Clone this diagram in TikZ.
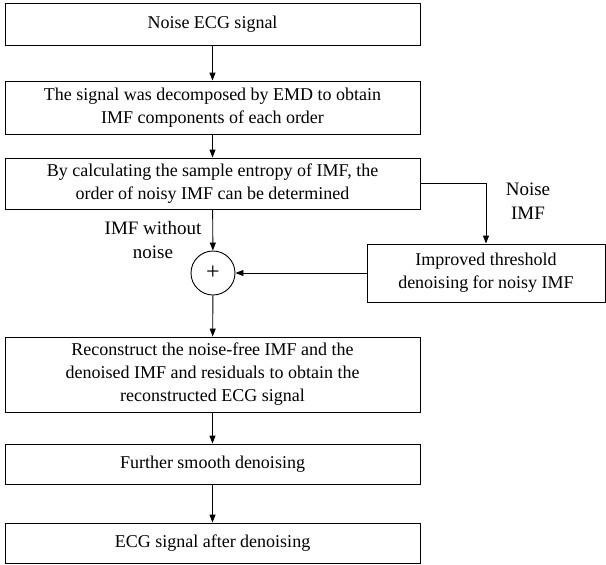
\documentclass[tikz,border=0pt]{standalone}
\usepackage{fontspec}
\setmainfont{Liberation Serif}
\usetikzlibrary{arrows.meta}

\tikzset{
  stage/.style={draw, line width=0.9pt, align=center, minimum width=415pt, inner sep=0pt,
    font=\fontsize{18}{23}\selectfont},
  tag/.style={inner sep=0pt, align=center, font=\fontsize{19}{24}\selectfont},
  flow/.style={line width=0.9pt, -{Triangle[length=8pt,width=6pt]}},
}

\begin{document}
\begin{tikzpicture}[x=1pt,y=-1pt]
			\useasboundingbox (0,0) rectangle (606,565);
			%%%%% START %%%%%
			\node[stage, minimum height=42pt] (noisy) at (212.5,24) {Noise ECG signal};
			\node[stage, minimum height=53pt] (emd) at (212.5,107.5) {The signal was decomposed by EMD to obtain\\IMF components of each order};
			\node[stage, minimum height=51pt] (entropy) at (212.5,183.5) {By calculating the sample entropy of IMF, the\\order of noisy IMF can be determined};
			
			\node[draw, circle, line width=0.9pt, minimum size=44pt, inner sep=0pt, font=\fontsize{24}{24}\selectfont] (sum) at (213,273) {+};
			\node[stage, minimum width=238pt, minimum height=58pt] (thresh) at (486,273) {Improved threshold\\denoising for noisy IMF};
			
			\node[tag] (noiseimf) at (528,201) {Noise\\IMF};
			\node[tag] (cleanimf) at (153,240) {IMF without\\noise};
			
			\node[stage, minimum height=75pt] (rebuild) at (212.5,374.5) {Reconstruct the noise-free IMF and the\\denoised IMF and residuals to obtain the\\reconstructed ECG signal};
			\node[stage, minimum height=40pt] (smooth) at (212.5,464) {Further smooth denoising};
			\node[stage, minimum height=40pt] (clean) at (212.5,543) {ECG signal after denoising};
			
			\draw[flow] (noisy) -- (emd);
			\draw[flow] (emd) -- (entropy);
			\draw[flow] (entropy) -- (sum);
			\draw[flow] (entropy.east) -| (thresh.north);
			\draw[flow] (thresh) -- (sum);
			\draw[flow] (sum) -- (rebuild);
			\draw[flow] (rebuild) -- (smooth);
			\draw[flow] (smooth) -- (clean);
			%%%%% END %%%%%
\end{tikzpicture}
\end{document}
